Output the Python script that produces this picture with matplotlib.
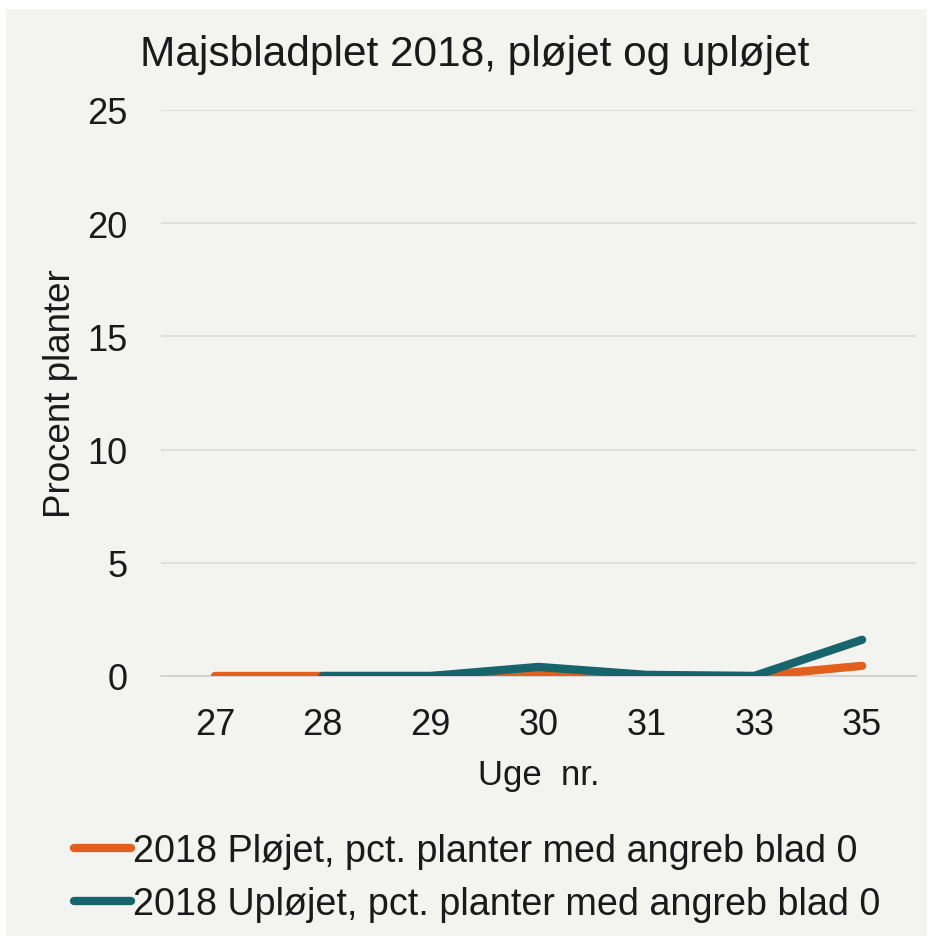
import matplotlib
matplotlib.use("Agg")
import matplotlib.pyplot as plt
import numpy as np
from matplotlib.patches import Rectangle

weeks = ["27", "28", "29", "30", "31", "33", "35"]
ploejet = [0.0, 0.0, 0.0, 0.1, 0.0, 0.0, 0.45]
uploejet = [np.nan, 0.0, 0.0, 0.4, 0.05, 0.0, 1.6]
label_p = "2018 Pløjet, pct. planter med angreb blad 0"
label_u = "2018 Upløjet, pct. planter med angreb blad 0"
yticks = [0, 5, 10, 15, 20, 25]

W, H = 930, 937
fig = plt.figure(figsize=(W / 100, H / 100), dpi=100, facecolor="white")
bg = "#f3f3ef"
fig.patches.append(Rectangle((6 / W, 0), (927 - 6) / W, 1 - 10 / H,
                             transform=fig.transFigure, facecolor=bg,
                             edgecolor="none", zorder=-10))

normal = ["Liberation Sans", "DejaVu Sans"]

left, right, top, bottom = 161, 916, 111, 677
ax = fig.add_axes([left / W, 1 - bottom / H, (right - left) / W, (bottom - top) / H])
ax.set_facecolor(bg)

x = np.arange(len(weeks))
orange = "#e2601c"
teal = "#16646c"
ax.plot(x, ploejet, color=orange, lw=6, solid_capstyle="round", solid_joinstyle="round", zorder=3, label=label_p)
ax.plot(x, uploejet, color=teal, lw=6, solid_capstyle="round", solid_joinstyle="round", zorder=4, label=label_u)

ax.set_xlim(-0.5, len(weeks) - 0.5)
ax.set_ylim(0, 25)
ax.set_yticks(yticks)
ax.set_yticklabels([str(v) for v in yticks], fontsize=26, family=normal, color="#1a1a1a")
ax.set_xticks(x)
ax.set_xticklabels(weeks, fontsize=26, family=normal, color="#1a1a1a")
ax.tick_params(axis="both", length=0)
ax.tick_params(axis="y", pad=24)
ax.tick_params(axis="x", pad=22)
ax.grid(axis="y", color="#dcdcd8", lw=1.2)
ax.set_axisbelow(True)
for s in ["top", "right", "left"]:
    ax.spines[s].set_visible(False)
ax.spines["bottom"].set_color("#d0d0cc")
ax.spines["bottom"].set_linewidth(1.2)

ax.set_ylabel("Procent planter", fontsize=26.5, family=normal, color="#1a1a1a", labelpad=7)
ax.set_xlabel("Uge  nr.", fontsize=25, family=normal, color="#1a1a1a", labelpad=12)

fig.text(475 / W, 1 - 55 / H, "Majsbladplet 2018, pløjet og upløjet", ha="center", va="center",
         fontsize=30.5, family=normal, color="#1a1a1a")

handles, labels = ax.get_legend_handles_labels()
leg = fig.legend(handles, labels, loc="upper left", bbox_to_anchor=(74 / W, 1 - 834 / H),
                 frameon=False, prop={"family": normal, "size": 27.2}, handlelength=1.5,
                 handletextpad=0.05, labelspacing=0.45, borderaxespad=0, borderpad=0)
for t in leg.get_texts():
    t.set_color("#1a1a1a")

fig.savefig("out.png", dpi=100, facecolor="white")
